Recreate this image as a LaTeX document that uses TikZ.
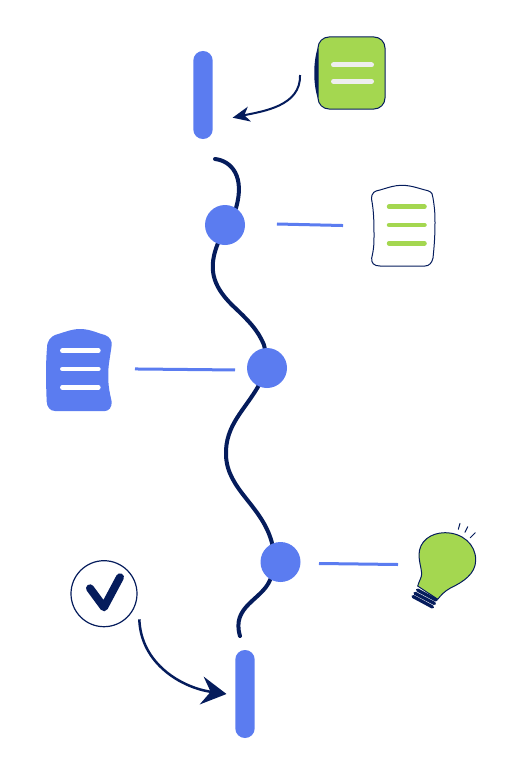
\documentclass[tikz,border=0pt]{standalone}
\usetikzlibrary{calc}
\usetikzlibrary{arrows.meta}
\definecolor{stepblue}{HTML}{5B7CF0}
\definecolor{stepnavy}{HTML}{051C5C}
\definecolor{stepgreen}{HTML}{A4D750}
\definecolor{stepwhite}{HTML}{EEEEEE}
\tikzset{
    endbar/.style={fill=stepblue, minimum width=19.4pt, minimum height=88pt, inner sep=0pt, rounded corners=9.6pt},
    stepdot/.style={circle, fill=stepblue, minimum size=40pt, inner sep=0pt},
    linkline/.style={stepblue, line width=3pt},
    flowarrow/.style={stepnavy, line width=2pt},
    outline/.style={stepnavy, line width=1pt},
    rowline/.style={line width=5pt, line cap=round},
}

\begin{document}
\begin{tikzpicture}[x=1pt, y=-1pt]

    \useasboundingbox (0,0) rectangle (529,776);

    \coordinate (waveA) at (225,225);
    \coordinate (waveB) at (267,368);
    \coordinate (waveC) at (280.5,562);
    \coordinate (noteA) at (403,226.9);
    \coordinate (noteB) at (79,368.4);
    \coordinate (bulb) at (445,565.1);

    \draw[stepnavy, line width=4pt, line cap=round] (215,159) .. controls (232,161) and (245,177) .. (236,208)
        .. controls (232,218) and (224,230) .. (218,243)
        .. controls (208,268) and (212,285) .. (232,305)
        .. controls (248,320) and (258,330) .. (264,345)
        .. controls (268,358) and (264,375) .. (259,385)
        .. controls (245,410) and (225,425) .. (226,455)
        .. controls (227,490) and (262,505) .. (272,543)
        .. controls (275,555) and (276,570) .. (270,580)
        .. controls (262,600) and (231,606) .. (240,636);

    \node[stepdot] (dotA) at (waveA) {};
    \node[stepdot] (dotB) at (waveB) {};
    \node[stepdot] (dotC) at (waveC) {};
    \node[endbar] (barTop) at (203,95) {};
    \node[endbar] (barEnd) at (245,694) {};

    \fill[stepnavy] (318,47) .. controls (313,62) and (313,84) .. (318,99) -- cycle;
    \node[draw=stepnavy, line width=1pt, fill=stepgreen, rounded corners=11pt, minimum width=67pt, minimum height=72pt, inner sep=0pt] (noteTop) at (351.5,73) {};
    \draw[rowline, stepwhite] (333.5,65) -- (371.5,65);
    \draw[rowline, stepwhite] (333.5,81.3) -- (371.5,81.3);

    \draw[outline] (371.7,200) .. controls (371,192) and (375,191) .. (380,190)
        .. controls (390,187) and (395,185.3) .. (401.7,185.3)
        .. controls (412,185.3) and (420,189) .. (428,190.7)
        .. controls (432,192) and (433,195) .. (433,198)
        .. controls (435,210) and (435,216) .. (435,223)
        .. controls (435,238) and (434,248) .. (433,258)
        .. controls (432,263) and (429,266) .. (425,266)
        -- (380,266) .. controls (374,266) and (371,263) .. (371.7,258)
        .. controls (374,248) and (374,243) .. (374,237)
        .. controls (374,225) and (374,212) .. (371.7,200) -- cycle;
    \draw[rowline, stepgreen, line width=4.5pt] (389,206.7) -- (424.5,206.7);
    \draw[rowline, stepgreen, line width=4.5pt] (389,225) -- (424.5,225);
    \draw[rowline, stepgreen, line width=4.5pt] (389,243.3) -- (424.5,243.3);

    \fill[stepblue] (47,348) .. controls (47,340) and (51,337) .. (55,335)
        .. controls (65,332) and (72,329) .. (80,329)
        .. controls (90,329) and (97,333) .. (105,335)
        .. controls (110,337) and (112,341) .. (111.7,345)
        .. controls (110,358) and (108,366) .. (108.3,375)
        .. controls (108,386) and (110,394) .. (111.7,401.7)
        .. controls (112,407) and (109,411) .. (105,411)
        -- (55,411) .. controls (50,411) and (47,407) .. (46.7,401.7)
        .. controls (46,385) and (45.5,365) .. (47,348) -- cycle;
    \draw[rowline, white, line width=4.5pt] (62.3,350.7) -- (98.4,350.7);
    \draw[rowline, white, line width=4.5pt] (62.3,369) -- (98.4,369);
    \draw[rowline, white, line width=4.5pt] (62.3,387.3) -- (98.4,387.3);

    \draw[linkline, shorten <=52pt, shorten >=60pt] ($(dotA) + (0, -2.2)$) -- (noteA);
    \draw[linkline, shorten <=32pt, shorten >=56pt] ($(dotB) + (0, 2.3)$) -- (noteB);
    \draw[linkline, shorten <=38.5pt, shorten >=47pt] ($(dotC) + (0, 1)$) -- (bulb);

    \filldraw[fill=stepgreen, draw=stepnavy, line width=1pt] (417.7,586) .. controls (419,581) and (422,577) .. (421.7,573.3)
        .. controls (421,567) and (419,561) .. (419,555)
        .. controls (419,541) and (431,532.7) .. (445,532.7)
        .. controls (462,532.7) and (475.7,544) .. (475.7,560)
        .. controls (475.7,574) and (463,582) .. (450,588.3)
        .. controls (445,591) and (441,595) .. (437.7,599.3) -- cycle;
    \draw[stepnavy, line width=3.3pt, line cap=round] (417.5,590) -- (436,600);
    \draw[stepnavy, line width=3.3pt, line cap=round] (415,593.3) -- (434.5,603.5);
    \draw[stepnavy, line width=3.3pt, line cap=round] (413,596.5) -- (432.5,607);
    \draw[stepnavy, line width=1pt, line cap=round] (458.3,529.3) -- (460,523.3);
    \draw[stepnavy, line width=1pt, line cap=round] (465,532.3) -- (467.7,526.7);
    \draw[stepnavy, line width=1pt, line cap=round] (470.3,537.7) -- (475.3,532.7);

    \node[circle, draw=stepnavy, line width=1.2pt, minimum size=66pt, inner sep=0pt] (checkMark) at (104,593.7) {};
    \draw[stepnavy, line width=8pt, line cap=round, line join=round] (90,588.3) -- (104,607.3) -- (120,577.3);

    \coordinate (flowA) at ($(noteTop.west) + (-17.5, 2)$);
    \coordinate (flowB) at ($(barTop.east) + (19.7, 22.7)$);
    \coordinate (flowC) at ($(checkMark) + (35.3, 25.6)$);
    \coordinate (flowD) at ($(barEnd.west) + (-8.6, 0)$);

    \draw[flowarrow, -{Stealth[length=17pt, width=15pt, inset=5pt]}] (flowA) to[out=-88, in=12] (flowB);
    \draw[flowarrow, line width=2.5pt, -{Stealth[length=25pt, width=28pt, inset=9pt]}] (flowC) to[out=-88, in=172] (flowD);

\end{tikzpicture}
\end{document}
